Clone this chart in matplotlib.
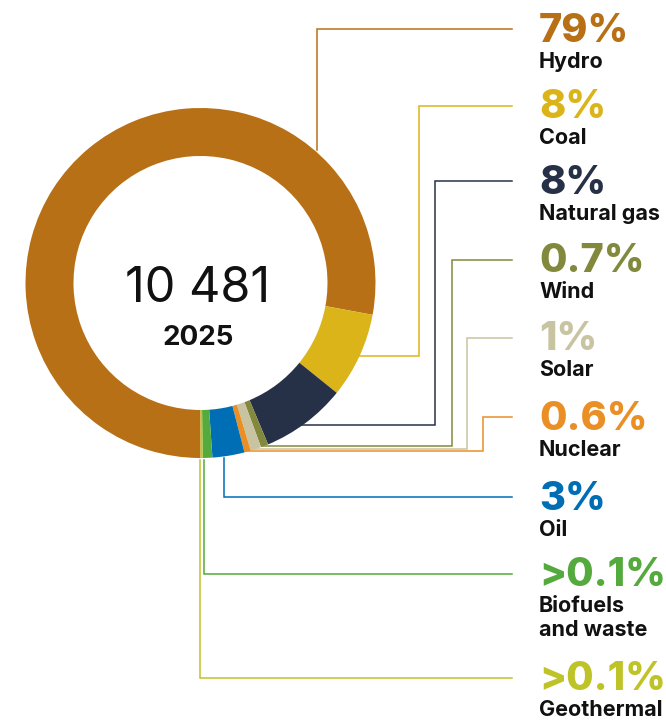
import matplotlib
matplotlib.use("Agg")
import numpy as np
import matplotlib.pyplot as plt

# Electricity generation mix, 2025
TOTAL = "10 481"
YEAR = "2025"
SOURCES = ["Hydro", "Coal", "Natural gas", "Wind", "Solar", "Nuclear", "Oil",
           "Biofuels\nand waste", "Geothermal"]
SHARES = [79, 8, 8, 0.7, 1, 0.6, 3, 0.9, 0.2]
SHARE_LABELS = ["79%", "8%", "8%", "0.7%", "1%", "0.6%", "3%", ">0.1%", ">0.1%"]
COLORS = ["#B87016", "#DBB41A", "#263148", "#82893C", "#C8C3A0", "#EA8E26",
          "#006EB5", "#54AA3C", "#BEC428"]

# ---- layout (pixel space, y measured from the top) ----
W, H = 666, 722
CX, CY = 200.5, 283
R_OUT, RING_W = 175, 48
LINE_END_X = 512
TEXT_X = 539
NAME_LINE_H = 23.3
# leader line: route type, where on the wedge it leaves (0..1), elbow x, label row y
ROUTE = ["v", "h", "h", "h", "h", "h", "v", "v", "v"]
ANCHOR = [0.79, 0.5, 0.55, 0.5, 0.5, 0.4, 0.65, 0.85, 1.0]
ELBOW_X = [None, 419, 435, 452, 467, 483, None, None, None]
ROW_Y = [29, 106, 181, 260, 338, 417, 497, 574, 678]

FONT = "Inter"


def Y(y):
    return H - y


fig = plt.figure(figsize=(W / 100, H / 100), dpi=100)
ax = fig.add_axes([0, 0, 1, 1])

wedges, _ = ax.pie(SHARES, colors=COLORS, startangle=-90, counterclock=False,
                   center=(CX, Y(CY)), radius=R_OUT,
                   wedgeprops=dict(width=RING_W, linewidth=0))
for w in wedges:
    w.set_zorder(3)

for i, w in enumerate(wedges):
    t1, t2 = w.theta1, w.theta2
    # counterclock=False -> the wedge is walked from theta2 down to theta1
    ang = np.deg2rad(t2 - ANCHOR[i] * (t2 - t1))
    px = CX + R_OUT * np.cos(ang)
    py = CY - R_OUT * np.sin(ang)
    row = ROW_Y[i]
    if ROUTE[i] == "h":
        xs = [px - 2, ELBOW_X[i], ELBOW_X[i], LINE_END_X]
        ys = [py, py, row, row]
    else:
        xs = [px, px, LINE_END_X]
        ys = [py - (2 if py < CY else -2), row, row]
    ax.plot(xs, [Y(v) for v in ys], color=COLORS[i], lw=1.1,
            solid_joinstyle="miter", zorder=2)

    ax.text(TEXT_X, Y(row + 12.5), SHARE_LABELS[i], color=COLORS[i],
            fontsize=28.5, fontweight=800, family=FONT, va="baseline",
            ha="left")
    for k, line in enumerate(SOURCES[i].split("\n")):
        ax.text(TEXT_X, Y(row + 38.5 + k * NAME_LINE_H), line, color="#111111",
                fontsize=15.5, fontweight="bold", family=FONT, va="baseline",
                ha="left")

ax.text(CX - 3, Y(302), TOTAL, fontsize=35, family=FONT, ha="center",
        va="baseline", color="#111111")
ax.text(CX - 2, Y(345), YEAR, fontsize=20, family=FONT, fontweight="bold",
        ha="center", va="baseline", color="#111111")

ax.set_xlim(0, W)
ax.set_ylim(0, H)
ax.set_aspect("equal")
ax.axis("off")

fig.savefig("out.png", dpi=100)
